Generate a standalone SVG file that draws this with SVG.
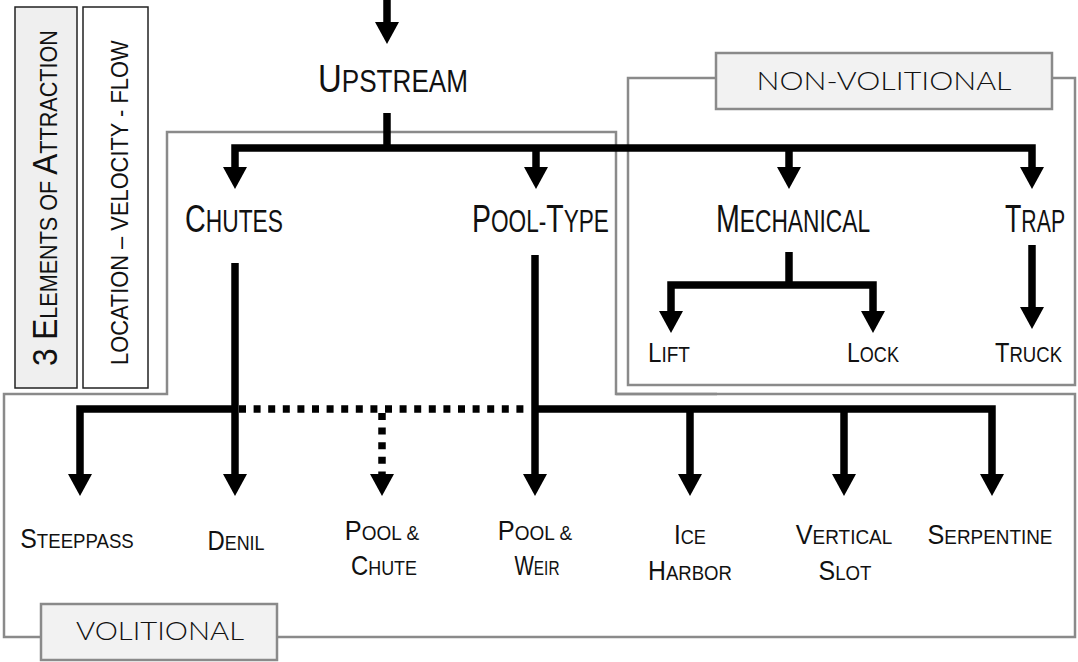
<svg xmlns="http://www.w3.org/2000/svg" width="1078" height="662" viewBox="0 0 1078 662">
<defs>
<marker id="ah" markerUnits="userSpaceOnUse" markerWidth="22" markerHeight="24" viewBox="0 0 22 24" refX="6" refY="12" orient="auto-start-reverse"><path d="M0,0 L22,12 L0,24 Z" fill="#000"/></marker>
<style>
.frame{fill:none;stroke:#8a8a8a;stroke-width:2.5}
.tag{fill:#f2f2f2;stroke:#8a8a8a;stroke-width:2.5}
.side{stroke:#222;stroke-width:1.5}
.c{fill:none;stroke:#000;stroke-width:7.5;stroke-linejoin:miter}
.dot{stroke-dasharray:7 7.6}
.ar{marker-end:url(#ah)}
.ar2{marker-start:url(#ah);marker-end:url(#ah)}
text{font-family:"Liberation Sans",Arial,sans-serif;fill:#111}
.m{text-anchor:middle}
.L1{font-size:39px}.S1{font-size:31px}
.L2{font-size:28px}.S2{font-size:22px}
.L3{font-size:28px}.S3{font-size:21px}
.tagt{font-family:Lato,"Open Sans","Liberation Sans",sans-serif;font-weight:300;font-size:25px;fill:#111}
.vL{font-size:35px}.vS{font-size:24px}
</style>
</defs>

<g id="frames">
<rect class="frame" x="628" y="78" width="447" height="307"/>
<path class="frame" d="M4,637 V394 H167 V132 H616 V394 H1075 V637 Z"/>
<path class="frame" d="M616,394 H717"/>
</g>

<g id="side-boxes">
<g id="elements">
<rect class="side" x="15" y="7" width="62" height="381" fill="#efefef"/>
<text transform="translate(57,366) rotate(-90) scale(0.9,1)"><tspan class="vL">3 E</tspan><tspan class="vS">LEMENTS OF </tspan><tspan class="vL">A</tspan><tspan class="vS">TTRACTION</tspan></text>
</g>
<g id="factors">
<rect class="side" x="83" y="7" width="65" height="381" fill="#fff"/>
<text class="vS" transform="translate(128,365) rotate(-90) scale(0.911,1)">LOCATION – VELOCITY - FLOW</text>
</g>
</g>

<g id="connectors">
<path class="c ar" d="M387,0 V28"/>
<path class="c" d="M387,113 V148"/>
<path class="c ar2" d="M235,173 V148 H1032 V173"/>
<path class="c ar" d="M536,148 V173"/>
<path class="c ar" d="M789,148 V173"/>
<path class="c" d="M789,252 V285"/>
<path class="c ar2" d="M671,317 V285 H873 V317"/>
<path class="c ar" d="M1032,245 V313"/>
<path class="c ar" d="M235,263 V480"/>
<path class="c ar" d="M535,255 V480"/>
<path class="c" d="M80,480 V409 H235" style="marker-start:url(#ah)"/>
<path class="c ar" d="M535,409 H992 V480"/>
<path class="c ar" d="M690,409 V480"/>
<path class="c ar" d="M844,409 V480"/>
<path class="c dot" d="M239,409 H531"/>
<path class="c dot ar" d="M382,413 V480"/>
</g>

<g id="tags">
<g id="nonvolitional">
<rect class="tag" x="716" y="53" width="336" height="56"/>
<text class="tagt" x="884" y="90" text-anchor="middle" textLength="255" lengthAdjust="spacingAndGlyphs">NON-VOLITIONAL</text>
</g>
<g id="volitional">
<rect class="tag" x="41" y="604" width="236" height="56"/>
<text class="tagt" x="160" y="640" text-anchor="middle" textLength="168" lengthAdjust="spacingAndGlyphs">VOLITIONAL</text>
</g>
</g>

<g id="upstream"><text transform="translate(318,92) scale(0.843,1)"><tspan class="L1">U</tspan><tspan class="S1">PSTREAM</tspan></text></g>
<g id="chutes"><text transform="translate(185,232) scale(0.736,1)"><tspan class="L1">C</tspan><tspan class="S1">HUTES</tspan></text></g>
<g id="pooltype"><text transform="translate(472,232) scale(0.73,1)"><tspan class="L1">P</tspan><tspan class="S1">OOL-</tspan><tspan class="L1">T</tspan><tspan class="S1">YPE</tspan></text></g>
<g id="mechanical"><text transform="translate(716,232) scale(0.734,1)"><tspan class="L1">M</tspan><tspan class="S1">ECHANICAL</tspan></text></g>
<g id="trap"><text transform="translate(1005,232) scale(0.686,1)"><tspan class="L1">T</tspan><tspan class="S1">RAP</tspan></text></g>
<g id="lift"><text transform="translate(648,362) scale(0.864,1)"><tspan class="L2">L</tspan><tspan class="S2">IFT</tspan></text></g>
<g id="lock"><text transform="translate(847,362) scale(0.822,1)"><tspan class="L2">L</tspan><tspan class="S2">OCK</tspan></text></g>
<g id="truck"><text transform="translate(995,362) scale(0.844,1)"><tspan class="L2">T</tspan><tspan class="S2">RUCK</tspan></text></g>

<g id="steeppass"><text class="m" transform="translate(77,548) scale(0.887,1)"><tspan class="L3">S</tspan><tspan class="S3">TEEPPASS</tspan></text></g>
<g id="denil"><text class="m" transform="translate(236,550) scale(0.852,1)"><tspan class="L3">D</tspan><tspan class="S3">ENIL</tspan></text></g>
<g id="poolchute">
<text class="m" transform="translate(382,540) scale(0.905,1)"><tspan class="L3">P</tspan><tspan class="S3">OOL &amp;</tspan></text>
<text class="m" transform="translate(384,575) scale(0.853,1)"><tspan class="L3">C</tspan><tspan class="S3">HUTE</tspan></text>
</g>
<g id="poolweir">
<text class="m" transform="translate(535,540) scale(0.905,1)"><tspan class="L3">P</tspan><tspan class="S3">OOL &amp;</tspan></text>
<text class="m" transform="translate(537,575) scale(0.733,1)"><tspan class="L3">W</tspan><tspan class="S3">EIR</tspan></text>
</g>
<g id="iceharbor">
<text class="m" transform="translate(690,544) scale(0.865,1)"><tspan class="L3">I</tspan><tspan class="S3">CE</tspan></text>
<text class="m" transform="translate(690,580) scale(0.885,1)"><tspan class="L3">H</tspan><tspan class="S3">ARBOR</tspan></text>
</g>
<g id="verticalslot">
<text class="m" transform="translate(844,544) scale(0.903,1)"><tspan class="L3">V</tspan><tspan class="S3">ERTICAL</tspan></text>
<text class="m" transform="translate(845,580) scale(0.89,1)"><tspan class="L3">S</tspan><tspan class="S3">LOT</tspan></text>
</g>
<g id="serpentine"><text class="m" transform="translate(990,544) scale(0.9,1)"><tspan class="L3">S</tspan><tspan class="S3">ERPENTINE</tspan></text></g>
</svg>
